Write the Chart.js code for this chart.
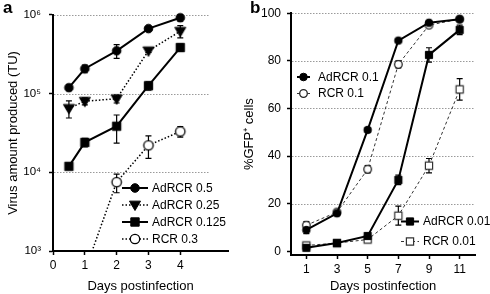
<!DOCTYPE html>
<html>
<head>
<meta charset="utf-8">
<script src="https://cdn.jsdelivr.net/npm/chart.js@4/dist/chart.umd.min.js"></script>
<style>
  html, body { margin: 0; padding: 0; background: #fff; }
  body { width: 490px; height: 294px; position: relative; overflow: hidden; font-family: "Liberation Sans", Arial, sans-serif; }
  .panel { position: absolute; top: 0; }
  .letter { position: absolute; top: -2px; font: bold 17px "Liberation Sans", Arial, sans-serif; color: #000; }
</style>
</head>
<body>
<div class="panel" style="left:0;width:245px;height:294px"><canvas id="ca" width="245" height="294"></canvas></div>
<div class="panel" style="left:240px;width:250px;height:294px"><canvas id="cb" width="250" height="294"></canvas></div>
<div class="letter" style="left:3px">a</div>
<div class="letter" style="left:250px">b</div>
<script>
// ---------- Panel a data ----------
const daysA = [0.5, 1, 2, 3, 4];
const adrcr05 = [119000, 207000, 350000, 670000, 920000];
const adrcr05Err = [10000, 23000, 70000, 40000, 90000];
const adrcr025 = [65000, 80000, 86000, 350000, 620000];
const adrcr025Err = [16000, 8000, 10000, 15000, 110000];
const adrcr0125 = [11900, 24000, 38500, 126000, 385000];
const adrcr0125Err = [1000, 3000, 15000, 15000, 40000];
const daysRcr03 = [1, 2, 3, 4];
const rcr03 = [550, 7500, 22000, 33000];
const rcr03Err = [0, 2000, 7000, 5000];
const tickValsA = [0, 1, 2, 3, 4];
const logTickVals = [1000, 10000, 100000, 1000000];
const logTickLabels = ['10³', '10⁴', '10⁵', '10⁶'];

// ---------- Panel b data ----------
const daysB = [1, 3, 5, 7, 9, 11];
const adrcr01 = [9, 16, 51, 88.5, 96, 97.5];
const adrcr01Err = [1.5, 1, 1, 0.5, 0.5, 0.5];
const rcr01 = [11, 16.5, 34.5, 78.5, 95, 97.5];
const rcr01Err = [1.5, 0.5, 1.5, 1.5, 0.5, 0.5];
const adrcr001 = [1.5, 3.5, 6.5, 30, 82.5, 93];
const adrcr001Err = [0.5, 0.5, 0.5, 2, 3, 2];
const rcr001 = [2.5, 3.5, 5, 15, 36, 68];
const rcr001Err = [0.5, 0.5, 0.5, 4, 3, 4.5];
const tickValsB = [1, 3, 5, 7, 9, 11];
const yTickValsB = [0, 20, 40, 60, 80, 100];

const FONT = '"Liberation Sans", Arial, sans-serif';
const pts = (xs, ys) => xs.map((x, i) => ({x: x, y: ys[i]}));

function drawMarker(ctx, style, x, y, r, fill, stroke, bw) {
  ctx.save();
  ctx.setLineDash([]);
  ctx.fillStyle = fill; ctx.strokeStyle = stroke; ctx.lineWidth = bw;
  ctx.beginPath();
  if (style === 'circle') {
    ctx.arc(x, y, r, 0, Math.PI * 2);
  } else if (style === 'rect') {
    ctx.rect(x - r, y - r, 2 * r, 2 * r);
  } else if (style === 'triangleDown') {
    const h = r * 1.15;
    ctx.moveTo(x - h, y - h * 0.7);
    ctx.lineTo(x + h, y - h * 0.7);
    ctx.lineTo(x, y + h * 1.0);
    ctx.closePath();
  }
  ctx.fill(); ctx.stroke();
  ctx.restore();
}

// Error bars drawn through the scales
const errorBarPlugin = {
  id: 'errorBars',
  beforeDatasetsDraw(chart) {
    const ctx = chart.ctx;
    const xs = chart.scales.x, ys = chart.scales.y;
    ctx.save();
    ctx.beginPath();
    ctx.rect(chart.chartArea.left - 10, chart.chartArea.top - 10, chart.chartArea.width + 20, chart.chartArea.height + 10);
    ctx.clip();
    chart.data.datasets.forEach(ds => {
      if (!ds.errors) return;
      ctx.strokeStyle = ds.errColor || '#000';
      ctx.lineWidth = 1.2;
      ctx.setLineDash([]);
      ds.data.forEach((p, i) => {
        const e = ds.errors[i];
        if (!e) return;
        const px = xs.getPixelForValue(p.x);
        const y1 = ys.getPixelForValue(p.y + e);
        const y2 = ys.getPixelForValue(Math.max(p.y - e, ys.min * 0.5 || -100));
        ctx.beginPath();
        ctx.moveTo(px, y1); ctx.lineTo(px, y2);
        ctx.moveTo(px - 3, y1); ctx.lineTo(px + 3, y1);
        ctx.moveTo(px - 3, y2); ctx.lineTo(px + 3, y2);
        ctx.stroke();
      });
    });
    ctx.restore();
  }
};

// Dotted horizontal gridlines
const gridPlugin = {
  id: 'dottedGrid',
  beforeDatasetsDraw(chart, args, opts) {
    const ctx = chart.ctx;
    const xs = chart.scales.x, ys = chart.scales.y;
    const xEnd = opts.xEnd != null ? xs.getPixelForValue(opts.xEnd) : chart.chartArea.right;
    ctx.save();
    ctx.strokeStyle = '#9a9a9a';
    ctx.lineWidth = 1;
    ctx.setLineDash([1.5, 1.5]);
    (opts.values || []).forEach(v => {
      const y = Math.round(ys.getPixelForValue(v)) + 0.5;
      ctx.beginPath();
      ctx.moveTo(chart.chartArea.left + 1, y);
      ctx.lineTo(xEnd, y);
      ctx.stroke();
    });
    ctx.restore();
  }
};

// Legend drawn inside the plot area
const insideLegendPlugin = {
  id: 'insideLegend',
  afterDraw(chart, args, opts) {
    const ctx = chart.ctx;
    (opts.groups || []).forEach(g => {
      g.items.forEach((di, k) => {
        const ds = chart.data.datasets[di];
        const y = g.y + k * g.rowH;
        ctx.save();
        ctx.strokeStyle = ds.borderColor;
        ctx.lineWidth = ds.borderWidth;
        ctx.setLineDash(ds.borderDash || []);
        ctx.beginPath();
        ctx.moveTo(g.x0, y); ctx.lineTo(g.x1, y);
        ctx.stroke();
        ctx.restore();
        drawMarker(ctx, ds.marker, (g.x0 + g.x1) / 2, y, ds.pointRadius, ds.pointBackgroundColor, ds.pointBorderColor, ds.pointBorderWidth);
        ctx.save();
        ctx.fillStyle = '#000';
        ctx.font = '12px ' + FONT;
        ctx.textBaseline = 'middle';
        ctx.fillText(ds.label, g.tx, y + 0.5);
        ctx.restore();
      });
    });
  }
};

function markerCanvas(style, r, fill, stroke, bw) {
  const s = Math.ceil(2 * r + 2 * bw + 4);
  const c = document.createElement('canvas');
  c.width = s; c.height = s;
  drawMarker(c.getContext('2d'), style, s / 2, s / 2, r, fill, stroke, bw);
  return c;
}

function ds(label, data, errors, opts) {
  return Object.assign({
    label: label, data: data, errors: errors,
    borderColor: '#000', borderWidth: 2, borderDash: [],
    pointBackgroundColor: '#000', pointBorderColor: '#000', pointBorderWidth: 1,
    pointRadius: 4, marker: 'circle', tension: 0,
    clip: {left: 10, top: 10, right: 10, bottom: 0}
  }, opts);
}

function finalize(d) {
  d.pointStyle = markerCanvas(d.marker, d.pointRadius, d.pointBackgroundColor, d.pointBorderColor, d.pointBorderWidth);
  d.pointHoverRadius = d.pointRadius;
  return d;
}

const axisFont = {family: FONT, size: 12};
const titleFont = {family: FONT, size: 13};

// ---------- Chart a ----------
const dsA = [
  ds('AdRCR 0.5', pts(daysA, adrcr05), adrcr05Err, {marker: 'circle', pointRadius: 4.3}),
  ds('AdRCR 0.25', pts(daysA, adrcr025), adrcr025Err, {marker: 'triangleDown', pointRadius: 4.8, borderWidth: 1.5, borderDash: [1.5, 2]}),
  ds('AdRCR 0.125', pts(daysA, adrcr0125), adrcr0125Err, {marker: 'rect', pointRadius: 4.2}),
  ds('RCR 0.3', pts(daysRcr03, rcr03), rcr03Err, {marker: 'circle', pointRadius: 4.7, borderWidth: 1.5, borderDash: [1.5, 2], pointBackgroundColor: '#fff', pointBorderWidth: 1.3})
].map(finalize);

new Chart(document.getElementById('ca'), {
  type: 'line',
  data: {datasets: dsA},
  plugins: [gridPlugin, errorBarPlugin, insideLegendPlugin],
  options: {
    responsive: false, animation: false, devicePixelRatio: 1,
    layout: {padding: {top: 14, right: 17, bottom: 0, left: 0}},
    plugins: {
      legend: {display: false}, tooltip: {enabled: false},
      dottedGrid: {values: [10000, 100000, 1000000], xEnd: 4.9},
      insideLegend: {groups: [{x0: 122, x1: 148, tx: 152, y: 188, rowH: 17, items: [0, 1, 2, 3]}]}
    },
    scales: {
      x: {
        type: 'linear', min: 0, max: 5.5,
        afterBuildTicks: s => { s.ticks = tickValsA.map(v => ({value: v})); },
        afterFit: s => { s.height = 43; },
        ticks: {font: axisFont, color: '#000', padding: 3, callback: v => String(v), maxRotation: 0},
        grid: {display: true, drawOnChartArea: false, drawTicks: true, tickLength: 4, tickColor: '#000', tickWidth: 1.5},
        border: {display: true, color: '#000', width: 2},
        title: {display: true, text: 'Days postinfection', font: titleFont, color: '#000', padding: {top: 0, bottom: 0}}
      },
      y: {
        type: 'logarithmic', min: 1000, max: 1000000,
        afterBuildTicks: s => { s.ticks = logTickVals.map(v => ({value: v})); },
        afterFit: s => { s.width = 53; },
        ticks: {font: {family: FONT, size: 11.5}, color: '#000', padding: 8, callback: v => logTickLabels[logTickVals.indexOf(v)]},
        grid: {display: true, drawOnChartArea: false, drawTicks: true, tickLength: 4, tickColor: '#000', tickWidth: 1.5},
        border: {display: true, color: '#000', width: 2},
        title: {display: true, text: 'Virus amount produced (TU)', font: titleFont, color: '#000', padding: {top: 6, bottom: 0}}
      }
    }
  }
});

// ---------- Chart b ----------
const dsB = [
  ds('AdRCR 0.1', pts(daysB, adrcr01), adrcr01Err, {marker: 'circle', pointRadius: 3.8}),
  ds('RCR 0.1', pts(daysB, rcr01), rcr01Err, {marker: 'circle', pointRadius: 3.8, borderWidth: 1, borderColor: '#333', borderDash: [3, 2.5], pointBackgroundColor: '#fff', pointBorderColor: '#222', pointBorderWidth: 1.3}),
  ds('AdRCR 0.01', pts(daysB, adrcr001), adrcr001Err, {marker: 'rect', pointRadius: 3.6}),
  ds('RCR 0.01', pts(daysB, rcr001), rcr001Err, {marker: 'rect', pointRadius: 3.6, borderWidth: 1, borderColor: '#333', borderDash: [3, 2.5], pointBackgroundColor: '#fff', pointBorderColor: '#333', pointBorderWidth: 1.2})
].map(finalize);
dsB.forEach(d => { d.clip = 10; });

new Chart(document.getElementById('cb'), {
  type: 'line',
  data: {datasets: dsB},
  plugins: [gridPlugin, errorBarPlugin, insideLegendPlugin],
  options: {
    responsive: false, animation: false, devicePixelRatio: 1,
    layout: {padding: {top: 13, right: 15, bottom: 0, left: 0}},
    plugins: {
      legend: {display: false}, tooltip: {enabled: false},
      dottedGrid: {values: [20, 40, 60, 80, 100]},
      insideLegend: {groups: [
        {x0: 57, x1: 70, tx: 78, y: 77, rowH: 16.5, items: [0, 1]},
        {x0: 161, x1: 179, tx: 183, y: 221.5, rowH: 20, items: [2, 3]}
      ]}
    },
    scales: {
      x: {
        type: 'linear', min: 0, max: 12,
        afterBuildTicks: s => { s.ticks = tickValsB.map(v => ({value: v})); },
        afterFit: s => { s.height = 39; },
        ticks: {font: axisFont, color: '#000', padding: 3, callback: v => String(v), maxRotation: 0},
        grid: {display: true, drawOnChartArea: false, drawTicks: true, tickLength: 4, tickColor: '#000', tickWidth: 1.5},
        border: {display: true, color: '#000', width: 2},
        title: {display: true, text: 'Days postinfection', font: titleFont, color: '#000', padding: {top: 0, bottom: 0}}
      },
      y: {
        type: 'linear', min: -1.5, max: 100,
        afterBuildTicks: s => { s.ticks = yTickValsB.map(v => ({value: v})); },
        afterFit: s => { s.width = 51; },
        ticks: {font: axisFont, color: '#000', padding: 6, callback: v => String(v)},
        grid: {display: true, drawOnChartArea: false, drawTicks: true, tickLength: 4, tickColor: '#000', tickWidth: 1.5},
        border: {display: true, color: '#000', width: 2},
        title: {display: true, text: '%GFP⁺ cells', font: titleFont, color: '#000', padding: {top: 2, bottom: 0}}
      }
    }
  }
});
</script>
</body>
</html>
